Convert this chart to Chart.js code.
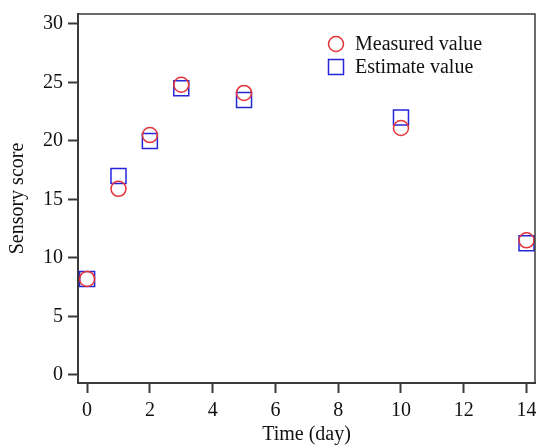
<!DOCTYPE html>
<html>
<head>
<meta charset="utf-8">
<script src="https://cdn.jsdelivr.net/npm/chart.js@4/dist/chart.umd.min.js"></script>
<style>
  html, body { margin: 0; padding: 0; background: #fff; }
  #wrap { width: 536px; height: 445px; position: relative; }
</style>
</head>
<body>
<div id="wrap"><canvas id="sensoryChart"></canvas></div>
<script>
// data
var days = [0, 1, 2, 3, 5, 10, 14];
var measured = [8.2, 15.9, 20.5, 24.8, 24.1, 21.1, 11.5];
var estimated = [8.2, 17.0, 20.0, 24.5, 23.5, 22.0, 11.25];
var xTicks = [0, 2, 4, 6, 8, 10, 12, 14];
var yTicks = [0, 5, 10, 15, 20, 25, 30];

var serif = "'Liberation Serif', 'Times New Roman', serif";
var axisColor = '#3a3a3a';

function toPoints(xs, ys) {
  return xs.map(function (x, i) { return { x: x, y: ys[i] }; });
}

// box round the plot and legend inside it
var framePlugin = {
  id: 'frame',
  afterDraw: function (chart) {
    var ctx = chart.ctx;
    var a = chart.chartArea;
    ctx.save();
    ctx.strokeStyle = axisColor;
    ctx.lineWidth = 1.5;
    ctx.beginPath();
    ctx.moveTo(a.left, a.top);
    ctx.lineTo(a.right, a.top);
    ctx.lineTo(a.right, a.bottom);
    ctx.stroke();

    var lx = 336, ly = 44;
    chart.data.datasets.forEach(function (ds, i) {
      var y = ly + i * 23;
      ctx.strokeStyle = ds.borderColor;
      ctx.lineWidth = 1.5;
      ctx.beginPath();
      if (ds.pointStyle === 'rect') {
        ctx.rect(lx - 7.5, y - 7.5, 15, 15);
      } else {
        ctx.arc(lx, y, 7.5, 0, Math.PI * 2);
      }
      ctx.stroke();
      ctx.fillStyle = '#111';
      ctx.font = '20px ' + serif;
      ctx.textBaseline = 'middle';
      ctx.textAlign = 'left';
      ctx.fillText(ds.label, lx + 19, y + 1);
    });
    ctx.restore();
  }
};

var ctx = document.getElementById('sensoryChart');
var chartConfig = {
  type: 'scatter',
  data: {
    datasets: [{
      label: 'Measured value',
      data: toPoints(days, measured),
      pointStyle: 'circle',
      pointRadius: 7.5,
      pointHoverRadius: 7.5,
      borderColor: '#e3343b',
      backgroundColor: 'rgba(0,0,0,0)',
      pointBorderWidth: 1.5
    }, {
      label: 'Estimate value',
      data: toPoints(days, estimated),
      pointStyle: 'rect',
      pointRadius: 10.6,
      pointHoverRadius: 10.6,
      borderColor: '#2626d9',
      backgroundColor: 'rgba(0,0,0,0)',
      pointBorderWidth: 1.5
    }]
  },
  options: {
    responsive: true,
    maintainAspectRatio: false,
    animation: false,
    layout: { autoPadding: false, padding: { top: 14, right: 1, left: 0, bottom: 0 } },
    plugins: {
      legend: { display: false },
      tooltip: { enabled: false }
    },
    scales: {
      x: {
        type: 'linear',
        min: -0.29,
        max: 14.27,
        afterFit: function (s) { s.height = 62; s.paddingLeft = 0; s.paddingRight = 0; },
        afterBuildTicks: function (s) { s.ticks = xTicks.map(function (v) { return { value: v }; }); },
        border: { display: true, color: axisColor, width: 2 },
        grid: { drawOnChartArea: false, drawTicks: true, tickLength: 10, tickColor: axisColor, tickWidth: 2 },
        ticks: { color: '#111', font: { family: serif, size: 20 }, padding: 6, maxRotation: 0, autoSkip: false },
        title: { display: true, text: 'Time (day)', color: '#111', font: { family: serif, size: 20, lineHeight: 1.0 }, padding: { top: 0, bottom: 0 } }
      },
      y: {
        type: 'linear',
        min: -0.7,
        max: 30.85,
        afterFit: function (s) { s.width = 78; s.paddingTop = 0; s.paddingBottom = 0; },
        afterBuildTicks: function (s) { s.ticks = yTicks.map(function (v) { return { value: v }; }); },
        border: { display: true, color: axisColor, width: 2 },
        grid: { drawOnChartArea: false, drawTicks: true, tickLength: 10, tickColor: axisColor, tickWidth: 2 },
        ticks: { color: '#111', font: { family: serif, size: 20 }, padding: 5, autoSkip: false },
        title: { display: true, text: 'Sensory score', color: '#111', font: { family: serif, size: 20 }, padding: { top: 6, bottom: 0 } }
      }
    }
  },
  plugins: [framePlugin]
};
var sensoryChartObj = new Chart(ctx, chartConfig);
</script>
</body>
</html>
